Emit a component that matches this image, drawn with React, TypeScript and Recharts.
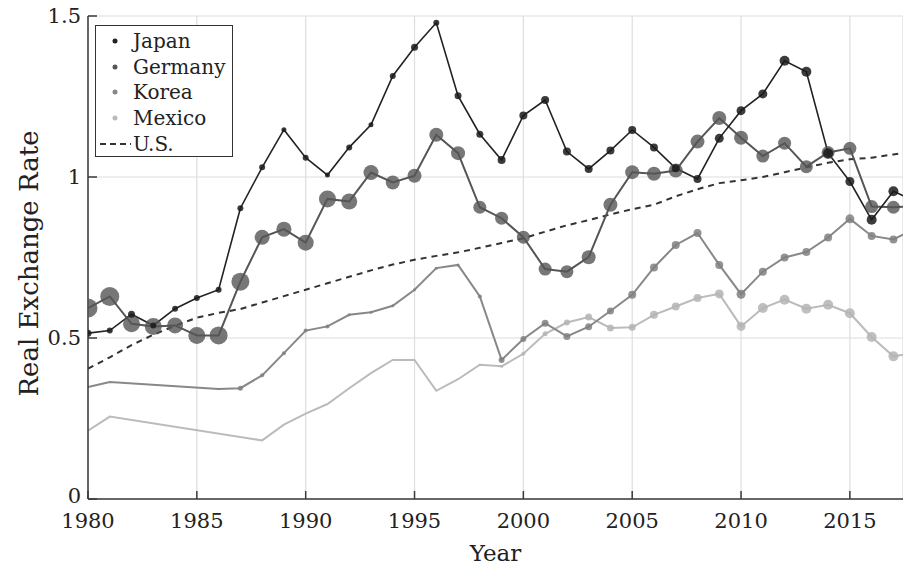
import { LineChart, Line, XAxis, YAxis, CartesianGrid } from 'recharts'

// Real exchange rates vs. US, 1980-2018
const YEARS = [
  1980, 1981, 1982, 1983, 1984, 1985, 1986, 1987, 1988, 1989,
  1990, 1991, 1992, 1993, 1994, 1995, 1996, 1997, 1998, 1999,
  2000, 2001, 2002, 2003, 2004, 2005, 2006, 2007, 2008, 2009,
  2010, 2011, 2012, 2013, 2014, 2015, 2016, 2017, 2018,
]

const JAPAN = [
  0.515, 0.523, 0.574, 0.539, 0.591, 0.624, 0.65, 0.903, 1.03, 1.147,
  1.06, 1.006, 1.092, 1.162, 1.314, 1.403, 1.479, 1.252, 1.133, 1.053,
  1.191, 1.239, 1.079, 1.025, 1.082, 1.146, 1.092, 1.027, 0.994, 1.12,
  1.206, 1.258, 1.361, 1.327, 1.074, 0.986, 0.867, 0.956, 0.925,
]
const GERMANY = [
  0.593, 0.629, 0.544, 0.536, 0.539, 0.508, 0.508, 0.675, 0.813, 0.838,
  0.796, 0.932, 0.924, 1.014, 0.983, 1.004, 1.131, 1.074, 0.906, 0.872,
  0.813, 0.714, 0.706, 0.751, 0.914, 1.015, 1.01, 1.02, 1.11, 1.183,
  1.122, 1.065, 1.105, 1.032, 1.076, 1.089, 0.908, 0.906, 0.91,
]
const KOREA = [
  0.348, 0.363, null, null, null, null, 0.342, 0.344, 0.384, 0.453,
  0.523, 0.536, 0.572, 0.58, 0.6, 0.65, 0.717, 0.727, 0.629, 0.432,
  0.497, 0.546, 0.505, 0.535, 0.584, 0.634, 0.719, 0.789, 0.826, 0.727,
  0.636, 0.706, 0.75, 0.767, 0.812, 0.87, 0.817, 0.806, 0.84,
]
const MEXICO = [
  0.212, 0.256, null, null, null, null, null, null, 0.182, 0.231,
  0.265, 0.295, 0.344, 0.391, 0.432, 0.432, 0.336, 0.372, 0.417, 0.412,
  0.451, 0.513, 0.548, 0.565, 0.531, 0.533, 0.572, 0.598, 0.624, 0.637,
  0.536, 0.593, 0.619, 0.591, 0.603, 0.577, 0.503, 0.443, 0.455,
]
const US = [
  0.405, 0.44, 0.478, 0.51, 0.538, 0.563, 0.578, 0.59, 0.61, 0.63,
  0.65, 0.67, 0.69, 0.71, 0.728, 0.743, 0.755, 0.766, 0.78, 0.795,
  0.81, 0.83, 0.85, 0.866, 0.884, 0.9, 0.914, 0.94, 0.962, 0.981,
  0.99, 1.0, 1.015, 1.03, 1.044, 1.055, 1.06, 1.07, 1.08,
]

// marker weights (dot radius grows with the weight)
const JAPAN_W = [
  3.5, 3, 3.5, 3, 3, 3, 3, 3, 3, 2.5,
  3, 2.5, 3, 2.5, 3, 3.5, 3, 3.5, 3.5, 4,
  4, 4, 4, 4, 4, 4, 4, 4, 4, 4.5,
  4.5, 4.5, 5, 5, 5, 4.5, 5, 5, 5,
]
const GERMANY_W = [
  9.5, 9.5, 8.5, 8.5, 8, 8.5, 9, 9, 7.5, 7.5,
  8, 8.5, 8, 7.5, 7, 7, 7, 7, 6.5, 6.5,
  6.5, 6.5, 6.5, 7, 7, 7, 7, 7, 7, 7,
  7, 6.5, 6.5, 6.5, 6.5, 6.5, 6.5, 6.5, 6.5,
]
const KOREA_W = [
  0, 0, 0, 0, 0, 0, 1, 2.5, 2, 2,
  2, 2, 1.5, 1.5, 1.5, 1.5, 1.5, 1.5, 2, 3,
  3, 3.5, 3.5, 3.5, 3.5, 4, 4, 4, 4, 4,
  4.5, 4, 4, 4, 4, 4.5, 4, 4, 4,
]
const MEXICO_W = [
  0, 0, 0, 0, 0, 0, 0, 0, 0, 0,
  0, 0, 0, 0, 0, 0, 0, 0, 1, 1.5,
  2, 2.5, 3, 3.5, 3.5, 3.5, 4, 4, 4, 4.5,
  4.5, 5, 5, 5, 5, 5, 5, 5, 5,
]

const X_TICKS = [1980, 1985, 1990, 1995, 2000, 2005, 2010, 2015]
const Y_TICKS = [0, 0.5, 1, 1.5]

const data = YEARS.map((year, i) => ({
  year,
  japan: JAPAN[i],
  germany: GERMANY[i],
  korea: KOREA[i],
  mexico: MEXICO[i],
  us: US[i],
}))

const FONT = 'DejaVu Serif'
const AXIS = '#3a3a3a'

const makeDot = (sizes: number[], fill: string, opacity: number) => (props: any) => {
  const { cx, cy, index } = props
  const r = sizes[index]
  if (cx == null || cy == null || !r) return <g key={`d-${index}`} />
  return <circle key={`d-${index}`} cx={cx} cy={cy} r={r} fill={fill} fillOpacity={opacity} stroke="none" />
}

const XTick = (props: any) => {
  const { x, y, payload } = props
  return (
    <g>
      <line x1={x} y1={y} x2={x} y2={y - 8} stroke={AXIS} strokeWidth={1.5} />
      <text x={x} y={y + 22} textAnchor="middle" dominantBaseline="central" fontFamily={FONT} fontSize={21} fill="#222">
        {payload.value}
      </text>
    </g>
  )
}

const YTick = (props: any) => {
  const { x, y, payload } = props
  // keep the "0" clear of the first year label
  const dy = payload.value === 0 ? -3 : 0
  return (
    <g>
      <line x1={x} y1={y} x2={x + 9} y2={y} stroke={AXIS} strokeWidth={1.5} />
      <text x={x - 7} y={y + dy} textAnchor="end" dominantBaseline="central" fontFamily={FONT} fontSize={21} fill="#222">
        {payload.value}
      </text>
    </g>
  )
}

const legendItems = [
  { name: 'Japan', color: '#222' },
  { name: 'Germany', color: '#555' },
  { name: 'Korea', color: '#888' },
  { name: 'Mexico', color: '#bbb' },
]

function ChartLegend() {
  return (
    <div
      style={{
        position: 'absolute',
        left: 95,
        top: 25,
        width: 138,
        height: 132,
        border: '1.5px solid #333',
        background: '#fff',
        fontFamily: FONT,
        fontSize: 20,
        color: '#222',
        paddingTop: 2,
        boxSizing: 'border-box',
      }}
    >
      {legendItems.map((item) => (
        <div key={item.name} style={{ height: 25.7, display: 'flex', alignItems: 'center' }}>
          <svg width={37} height={20}>
            <circle cx={19} cy={10} r={2.5} fill={item.color} />
          </svg>
          <span>{item.name}</span>
        </div>
      ))}
      <div style={{ height: 25.7, display: 'flex', alignItems: 'center' }}>
        <svg width={37} height={20}>
          <line x1={4} y1={10} x2={35} y2={10} stroke="#333" strokeWidth={1.8} strokeDasharray="6 4" />
        </svg>
        <span>U.S.</span>
      </div>
    </div>
  )
}

export default function App() {
  return (
    <div style={{ position: 'absolute', left: 0, top: 0, width: 903, height: 566, background: '#fff' }}>
      <LineChart width={903} height={566} data={data} margin={{ top: 16, right: 0, bottom: 0, left: 0 }}>
        <CartesianGrid stroke="#dedede" strokeWidth={1.2} />
        <XAxis
          dataKey="year"
          type="number"
          domain={[1980, 2017.44]}
          allowDataOverflow
          ticks={X_TICKS}
          height={67}
          tickSize={0}
          tickMargin={0}
          tickLine={false}
          axisLine={{ stroke: AXIS, strokeWidth: 1.5 }}
          tick={<XTick />}
          label={{ value: 'Year', position: 'insideBottom', offset: 5, fontFamily: FONT, fontSize: 23, fill: '#222' }}
        />
        <YAxis
          type="number"
          domain={[0, 1.5]}
          ticks={Y_TICKS}
          width={88}
          tickSize={0}
          tickMargin={0}
          tickLine={false}
          axisLine={{ stroke: AXIS, strokeWidth: 1.5 }}
          tick={<YTick />}
          label={{ value: 'Real Exchange Rate', angle: -90, position: 'center', dx: -15, dy: 6, fontFamily: FONT, fontSize: 26, fill: '#222' }}
        />
        <Line
          dataKey="us"
          stroke="#333"
          strokeWidth={2}
          strokeDasharray="6 5"
          dot={false}
          isAnimationActive={false}
        />
        <Line
          dataKey="mexico"
          stroke="#bbb"
          strokeWidth={2}
          connectNulls
          dot={makeDot(MEXICO_W, '#b4b4b4', 0.85)}
          isAnimationActive={false}
        />
        <Line
          dataKey="korea"
          stroke="#888"
          strokeWidth={2}
          connectNulls
          dot={makeDot(KOREA_W, '#808080', 0.85)}
          isAnimationActive={false}
        />
        <Line
          dataKey="germany"
          stroke="#555"
          strokeWidth={2}
          dot={makeDot(GERMANY_W, '#555', 0.8)}
          isAnimationActive={false}
        />
        <Line
          dataKey="japan"
          stroke="#222"
          strokeWidth={1.6}
          dot={makeDot(JAPAN_W, '#1a1a1a', 0.85)}
          isAnimationActive={false}
        />
      </LineChart>
      <ChartLegend />
    </div>
  )
}
